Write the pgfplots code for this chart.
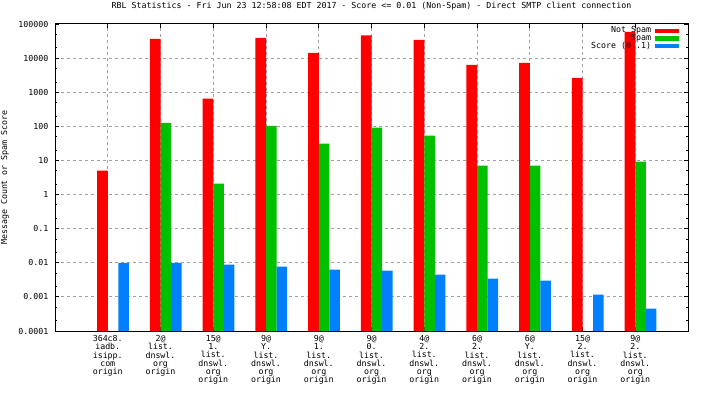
\documentclass[border=0pt]{standalone}
\usepackage{pgfplots}
\pgfplotsset{compat=1.18}
\usepackage{fontspec}
\setmainfont{DejaVu Sans Mono}
\newcommand\gfont{\fontsize{8.3bp}{8.2bp}\selectfont}
\definecolor{gpred}{HTML}{FF0000}
\definecolor{gpgreen}{HTML}{00C000}
\definecolor{gpblue}{HTML}{0080FF}
\definecolor{gridgray}{HTML}{A0A0A0}
\begin{document}
\begin{tikzpicture}
\path[use as bounding box] (-55bp,-65bp) rectangle (649bp,331bp);
\begin{axis}[
  at={(0,0)}, anchor=south west,
  scale only axis, width=633bp, height=307bp,
  xmin=-1, xmax=11,
  ymode=log, ymin=1e-4, ymax=1e5, log origin=infty,
  ybar, bar width=0.2,
  xtick={0,1,2,3,4,5,6,7,8,9,10},
  xticklabels={
    {364c8.\\iadb.\\isipp.\\com\\origin},
    {2@\\list.\\dnswl.\\org\\origin},
    {15@\\1.\\list.\\dnswl.\\org\\origin},
    {9@\\Y.\\list.\\dnswl.\\org\\origin},
    {9@\\1.\\list.\\dnswl.\\org\\origin},
    {9@\\0.\\list.\\dnswl.\\org\\origin},
    {4@\\2.\\list.\\dnswl.\\org\\origin},
    {6@\\2.\\list.\\dnswl.\\org\\origin},
    {6@\\Y.\\list.\\dnswl.\\org\\origin},
    {15@\\2.\\list.\\dnswl.\\org\\origin},
    {9@\\2.\\list.\\dnswl.\\org\\origin}},
  ytick={1e-4,1e-3,1e-2,1e-1,1,10,100,1000,10000,100000},
  yticklabels={0.0001,0.001,0.01,0.1,1,10,100,1000,10000,100000},
  minor ytick={2e-4,5e-4,2e-3,5e-3,2e-2,5e-2,2e-1,5e-1,2,5,20,50,200,500,2000,5000,20000,50000},
  tick align=inside, xtick pos=both, ytick pos=both,
  xmajorgrids, ymajorgrids,
  major grid style={gridgray, dash pattern=on 3bp off 3bp, line width=1bp},
  axis line style={line width=1bp},
  major tick style={black, line width=0.8bp},
  minor tick style={black, line width=0.8bp},
  major tick length=4bp, minor tick length=2.5bp,
  xticklabel style={align=center, font=\gfont, yshift=-1bp},
  yticklabel style={font=\gfont, xshift=-3bp},
  title={RBL Statistics - Fri Jun 23 12:58:08 EDT 2017 - Score <= 0.01 (Non-Spam) - Direct SMTP client connection},
  title style={at={(0.5,1)}, anchor=base, yshift=10bp, font=\gfont},
  ylabel={Message Count or Spam Score},
  every axis y label/.style={at={(axis description cs:-0.079,0.5)}, rotate=90, anchor=center, font=\gfont},
  legend image code/.code={\fill[#1] (0bp,-2.2bp) rectangle (24bp,2.2bp);},
  legend cell align=right, legend plot pos=right,
  legend style={draw=none, fill=none, at={(1,1)}, anchor=north east, xshift=-9bp, yshift=-3bp,
    inner sep=0pt, outer sep=0pt, font=\gfont, row sep=0pt, column sep=4bp,
    nodes={inner sep=0pt, text height=5.9bp, text depth=1.8bp}},
]
\addplot[draw=none, fill=gpred, bar shift=-0.1] coordinates {
 (0,5.0) (1,36800) (2,645) (3,39500) (4,14300) (5,46100) (6,34400) (7,6380) (8,7300) (9,2650) (10,59000)};
\addlegendentry{Not Spam}
\addplot[draw=none, fill=gpgreen, bar shift=0.1] coordinates {
 (1,127) (2,2.08) (3,104) (4,31) (5,91) (6,53) (7,7.0) (8,7.0) (10,9.2)};
\addlegendentry{Spam}
\addplot[draw=none, fill=gpblue, bar shift=0.3] coordinates {
 (0,0.0099) (1,0.0099) (2,0.0088) (3,0.0077) (4,0.0063) (5,0.0059) (6,0.0045) (7,0.00343) (8,0.0030) (9,0.00116) (10,0.00045)};
\addlegendentry{Score (0..1)}
\end{axis}
\end{tikzpicture}
\end{document}
